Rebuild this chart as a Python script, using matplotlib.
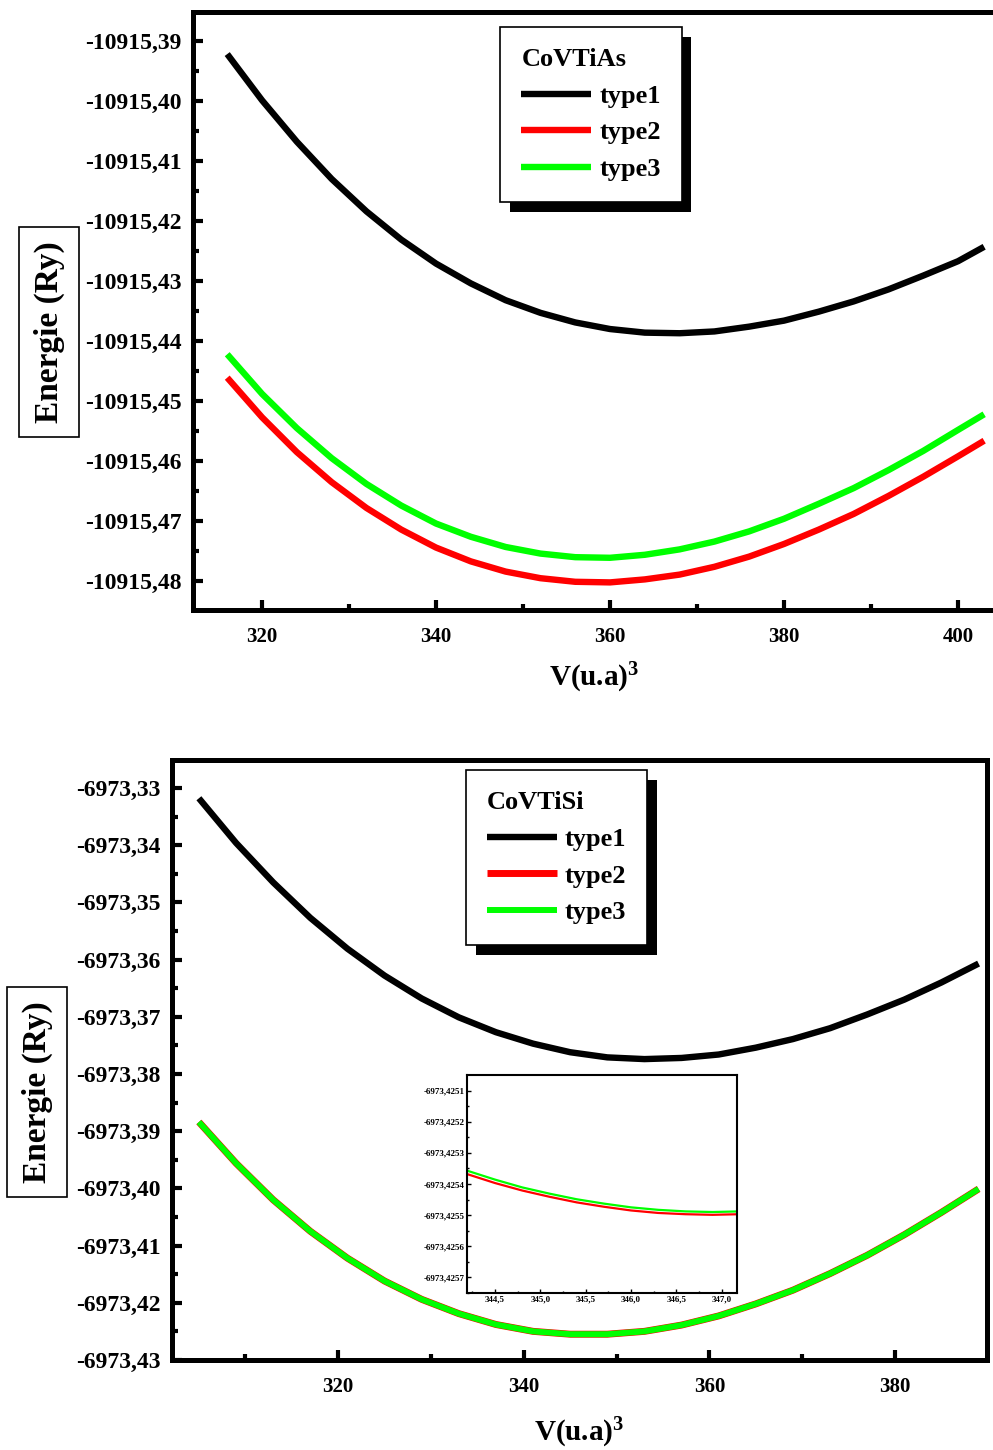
import matplotlib
matplotlib.use("Agg")
import matplotlib.pyplot as plt
from matplotlib.ticker import FuncFormatter, AutoMinorLocator
import matplotlib.patheffects as pe

plt.rcParams['font.family'] = ['Liberation Serif', 'DejaVu Serif']
plt.rcParams['font.weight'] = 'bold'
plt.rcParams['mathtext.fontset'] = 'custom'
plt.rcParams['mathtext.rm'] = 'Liberation Serif:bold'
plt.rcParams['mathtext.it'] = 'Liberation Serif:bold:italic'
plt.rcParams['mathtext.bf'] = 'Liberation Serif:bold'

# ---- CoVTiAs (top panel) ----
v_as = [316, 320, 324, 328, 332, 336, 340, 344, 348, 352, 356, 360,
        364, 368, 372, 376, 380, 384, 388, 392, 396, 400, 403]
e_as_type1 = [-10915.3922, -10915.3999, -10915.4068, -10915.4130, -10915.4184,
              -10915.4231, -10915.4271, -10915.4304, -10915.4332, -10915.4353,
              -10915.4369, -10915.4380, -10915.4386, -10915.4387, -10915.4384,
              -10915.4376, -10915.4366, -10915.4351, -10915.4334, -10915.4314,
              -10915.4291, -10915.4267, -10915.4243]
e_as_type2 = [-10915.4461, -10915.4527, -10915.4585, -10915.4635, -10915.4678,
              -10915.4714, -10915.4744, -10915.4767, -10915.4784, -10915.4795,
              -10915.4801, -10915.4802, -10915.4797, -10915.4789, -10915.4776,
              -10915.4759, -10915.4738, -10915.4714, -10915.4688, -10915.4658,
              -10915.4626, -10915.4592, -10915.4566]
e_as_type3 = [-10915.4422, -10915.4488, -10915.4545, -10915.4595, -10915.4638,
              -10915.4674, -10915.4704, -10915.4726, -10915.4743, -10915.4754,
              -10915.4760, -10915.4761, -10915.4756, -10915.4747, -10915.4734,
              -10915.4717, -10915.4696, -10915.4671, -10915.4645, -10915.4615,
              -10915.4583, -10915.4548, -10915.4522]
xticks_as = [320, 340, 360, 380, 400]
yticks_as = [-10915.39, -10915.40, -10915.41, -10915.42, -10915.43,
             -10915.44, -10915.45, -10915.46, -10915.47, -10915.48]

# ---- CoVTiSi (bottom panel) ----
v_si = [305, 309, 313, 317, 321, 325, 329, 333, 337, 341, 345,
        349, 353, 357, 361, 365, 369, 373, 377, 381, 385, 389]
e_si_type1 = [-6973.3318, -6973.3396, -6973.3465, -6973.3527, -6973.3581,
              -6973.3628, -6973.3668, -6973.3701, -6973.3727, -6973.3747,
              -6973.3762, -6973.3771, -6973.3774, -6973.3772, -6973.3766,
              -6973.3754, -6973.3739, -6973.3720, -6973.3696, -6973.3670,
              -6973.3640, -6973.3607]
e_si_type2 = [-6973.3884, -6973.3956, -6973.4020, -6973.4075, -6973.4122,
              -6973.4162, -6973.4194, -6973.4219, -6973.4238, -6973.4250,
              -6973.4255, -6973.4255, -6973.4250, -6973.4239, -6973.4223,
              -6973.4202, -6973.4178, -6973.4149, -6973.4117, -6973.4081,
              -6973.4042, -6973.4001]
e_si_type3 = [-6973.3884, -6973.3956, -6973.4020, -6973.4075, -6973.4122,
              -6973.4162, -6973.4194, -6973.4219, -6973.4238, -6973.4250,
              -6973.4255, -6973.4255, -6973.4250, -6973.4239, -6973.4223,
              -6973.4202, -6973.4178, -6973.4149, -6973.4117, -6973.4081,
              -6973.4042, -6973.4001]
xticks_si = [320, 340, 360, 380]
yticks_si = [-6973.33, -6973.34, -6973.35, -6973.36, -6973.37, -6973.38,
             -6973.39, -6973.40, -6973.41, -6973.42, -6973.43]

# ---- zoom inset (CoVTiSi near minimum) ----
v_zoom = [344.2, 344.5, 344.8, 345.1, 345.4, 345.7, 346.0, 346.3, 346.6, 346.9, 347.2]
e_zoom_type2 = [-6973.425369, -6973.425397, -6973.425421, -6973.425441,
                -6973.425459, -6973.425473, -6973.425485, -6973.425493,
                -6973.425497, -6973.425499, -6973.425497]
e_zoom_type3 = [-6973.425358, -6973.425386, -6973.425411, -6973.425431,
                -6973.425449, -6973.425463, -6973.425475, -6973.425483,
                -6973.425488, -6973.425490, -6973.425488]
xticks_zoom = [344.5, 345.0, 345.5, 346.0, 346.5, 347.0]
yticks_zoom = [-6973.4251, -6973.4252, -6973.4253, -6973.4254,
               -6973.4255, -6973.4256, -6973.4257]

labels = ['type1', 'type2', 'type3']
colors = ['#000000', '#ff0000', '#00ff00']


def comma_fmt(ndec):
    return FuncFormatter(lambda v, p: f'{v:.{ndec}f}'.replace('.', ','))


def style_axes(ax, xticks, yticks, ndec_y):
    for s in ax.spines.values():
        s.set_linewidth(3.6)
    ax.set_xticks(xticks)
    ax.set_yticks(yticks)
    ax.xaxis.set_major_formatter(comma_fmt(0))
    ax.yaxis.set_major_formatter(comma_fmt(ndec_y))
    ax.xaxis.set_minor_locator(AutoMinorLocator(2))
    ax.yaxis.set_minor_locator(AutoMinorLocator(2))
    ax.tick_params(which='both', direction='in', top=False, right=False, width=3)
    ax.tick_params(which='major', length=7)
    ax.tick_params(which='minor', length=4)
    ax.tick_params(axis='x', labelsize=15, pad=12)
    ax.tick_params(axis='y', labelsize=17, pad=8)


def add_legend(ax, title, anchor):
    leg = ax.legend(title=title, loc='upper left', bbox_to_anchor=anchor,
                    borderaxespad=0, fontsize=19, title_fontsize=19,
                    alignment='left', fancybox=False, edgecolor='black',
                    framealpha=1, handlelength=2.65, handletextpad=0.3,
                    labelspacing=0.5, borderpad=0.8)
    leg.get_frame().set_linewidth(1.2)
    leg.get_frame().set_path_effects(
        [pe.withSimplePatchShadow(offset=(7, -7), shadow_rgbFace='black', alpha=1)])
    for t in leg.get_texts():
        t.set_fontweight('bold')
    leg.get_title().set_fontweight('bold')
    return leg


fig = plt.figure(figsize=(9.93, 14.5), dpi=100)

# top panel
ax1 = fig.add_axes([0.1944, 0.5793, 0.8087, 0.4124])
for e, lab, c in zip([e_as_type1, e_as_type2, e_as_type3], labels, colors):
    ax1.plot(v_as, e, color=c, lw=4.6, label=lab, solid_capstyle='butt',
             solid_joinstyle='round')
ax1.set_xlim(312.07, 404.37)
ax1.set_ylim(-10915.4848, -10915.3852)
style_axes(ax1, xticks_as, yticks_as, 2)
ax1.set_xlabel(r'V(u.a)$^{3}$', fontsize=21, fontweight='bold', labelpad=10)
add_legend(ax1, 'CoVTiAs', (0.3825, 0.975))
fig.text(0.0493, 0.771, 'Energie (Ry)', rotation=90, ha='center', va='center',
         fontsize=24, fontweight='bold',
         bbox=dict(boxstyle='square,pad=0.42', fc='white', ec='black', lw=1.2))

# bottom panel
ax2 = fig.add_axes([0.1732, 0.0621, 0.8207, 0.4138])
ax2.plot(v_si, e_si_type1, color=colors[0], lw=4.6, label=labels[0],
         solid_capstyle='butt', solid_joinstyle='round')
ax2.plot(v_si, e_si_type2, color=colors[1], lw=5.0, label=labels[1],
         solid_capstyle='butt', solid_joinstyle='round')
ax2.plot(v_si, e_si_type3, color=colors[2], lw=4.3, label=labels[2],
         solid_capstyle='butt', solid_joinstyle='round')
ax2.set_xlim(302.1, 389.9)
ax2.set_ylim(-6973.43, -6973.3251)
style_axes(ax2, xticks_si, yticks_si, 2)
ax2.set_xlabel(r'V(u.a)$^{3}$', fontsize=21, fontweight='bold', labelpad=14)
add_legend(ax2, 'CoVTiSi', (0.3606, 0.983))
fig.text(0.0373, 0.2469, 'Energie (Ry)', rotation=90, ha='center', va='center',
         fontsize=24, fontweight='bold',
         bbox=dict(boxstyle='square,pad=0.42', fc='white', ec='black', lw=1.2))

# inset
ax3 = fig.add_axes([0.4703, 0.1083, 0.2719, 0.1503])
ax3.plot(v_zoom, e_zoom_type2, color=colors[1], lw=1.6)
ax3.plot(v_zoom, e_zoom_type3, color=colors[2], lw=1.6)
ax3.set_xlim(344.19, 347.17)
ax3.set_ylim(-6973.42575, -6973.42505)
for s in ax3.spines.values():
    s.set_linewidth(1.5)
ax3.set_xticks(xticks_zoom)
ax3.set_yticks(yticks_zoom)
ax3.xaxis.set_major_formatter(comma_fmt(1))
ax3.yaxis.set_major_formatter(comma_fmt(4))
ax3.xaxis.set_minor_locator(AutoMinorLocator(2))
ax3.yaxis.set_minor_locator(AutoMinorLocator(2))
ax3.tick_params(which='both', direction='in', top=False, right=False, width=1)
ax3.tick_params(which='major', length=3, labelsize=6.5, pad=2)
ax3.tick_params(which='minor', length=1.5)

fig.savefig('out.png', dpi=100)
